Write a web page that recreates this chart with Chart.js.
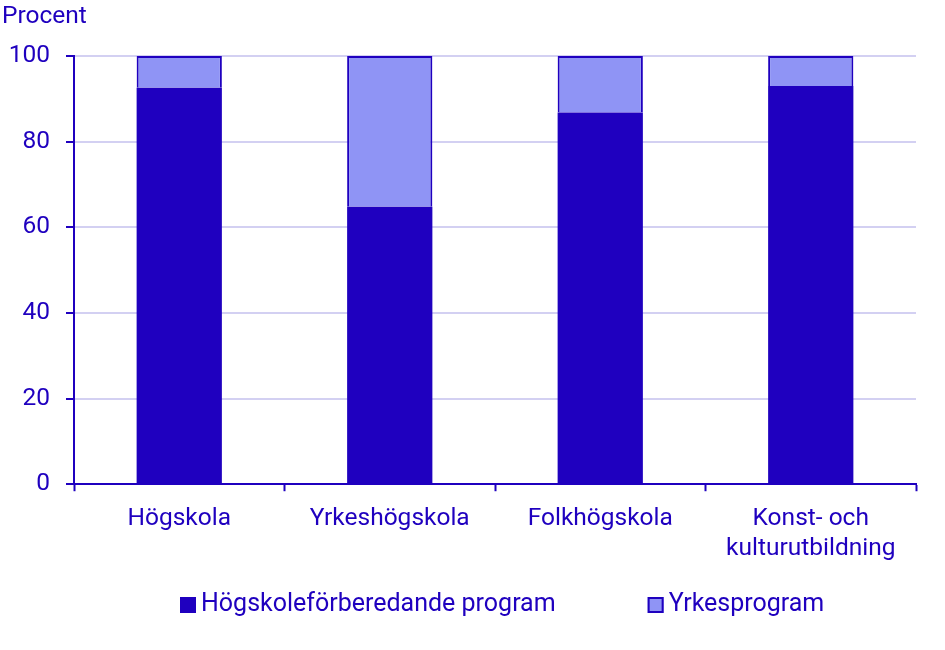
<!DOCTYPE html>
<html>
<head>
<meta charset="utf-8">
<script src="https://cdn.jsdelivr.net/npm/chart.js@4.4.1/dist/chart.umd.min.js"></script>
<style>
    body { margin: 0; background: #fff; }
    #wrap { width: 945px; height: 650px; }
</style>
</head>
<body>
<div id="wrap"><canvas id="chart"></canvas></div>
<script>
const categories = ['Högskola', 'Yrkeshögskola', 'Folkhögskola', ['Konst- och', 'kulturutbildning']];
const hogskoleforberedande = [92.6, 64.8, 86.8, 93.0];
const yrkesprogram = [7.4, 35.2, 13.2, 7.0];
const seriesNames = ['Högskoleförberedande program', 'Yrkesprogram'];

const darkBlue = '#1f00bf';
const lightBlue = '#8f94f5';
const gridColor = '#d3d0f2';
const textColor = '#1f00bf';
const fontSize = 24.5;

Chart.defaults.font.family = 'Roboto';
Chart.defaults.font.size = fontSize;
Chart.defaults.color = textColor;

// legend drawn by hand so the spacing matches the original
const bottomLegend = {
    id: 'bottomLegend',
    afterDraw(chart) {
        const ctx = chart.ctx;
        const y = 605;
        let x = 180;
        ctx.save();
        ctx.font = '25px Roboto';
        ctx.textBaseline = 'middle';
        chart.data.datasets.forEach((ds) => {
            ctx.fillStyle = ds.backgroundColor;
            ctx.fillRect(x, y - 8, 16, 16);
            ctx.strokeStyle = darkBlue;
            ctx.lineWidth = 2;
            ctx.strokeRect(x + 1, y - 7, 14, 14);
            ctx.fillStyle = textColor;
            ctx.fillText(ds.label, x + 21, y);
            x += 21 + ctx.measureText(ds.label).width + 92;
        });
        ctx.restore();
    }
};

const ctx = document.getElementById('chart').getContext('2d');
const chart = new Chart(ctx, {
    type: 'bar',
    data: {
        labels: categories,
        datasets: [{
            label: seriesNames[0],
            data: hogskoleforberedande,
            backgroundColor: darkBlue,
            borderWidth: 0
        }, {
            label: seriesNames[1],
            data: yrkesprogram,
            backgroundColor: lightBlue,
            borderColor: darkBlue,
            borderWidth: 2
        }]
    },
    options: {
        responsive: true,
        maintainAspectRatio: false,
        animation: false,
        datasets: {
            bar: { barPercentage: 0.405, categoryPercentage: 1 }
        },
        layout: {
            padding: { left: 2, right: 29, top: 0, bottom: 73 }
        },
        plugins: {
            legend: { display: false },
            tooltip: { enabled: false },
            title: {
                display: true,
                text: 'Procent',
                align: 'start',
                color: textColor,
                font: { size: fontSize, weight: 'normal' },
                padding: { top: 2, bottom: 24.6 }
            }
        },
        scales: {
            x: {
                stacked: true,
                grid: {
                    drawOnChartArea: false,
                    drawTicks: true,
                    tickLength: 7,
                    tickColor: darkBlue,
                    tickWidth: 2
                },
                border: { color: darkBlue, width: 2 },
                ticks: {
                    padding: 13,
                    font: { size: fontSize, lineHeight: 1.22 },
                    maxRotation: 0
                }
            },
            y: {
                stacked: true,
                min: 0,
                max: 100,
                afterFit(scale) { scale.width = 72; },
                grid: {
                    color: gridColor,
                    lineWidth: 2,
                    tickLength: 8,
                    tickColor: darkBlue,
                    tickWidth: 2
                },
                border: { color: darkBlue, width: 2 },
                ticks: {
                    stepSize: 20,
                    padding: 16
                }
            }
        }
    },
    plugins: [bottomLegend]
});
</script>
</body>
</html>
